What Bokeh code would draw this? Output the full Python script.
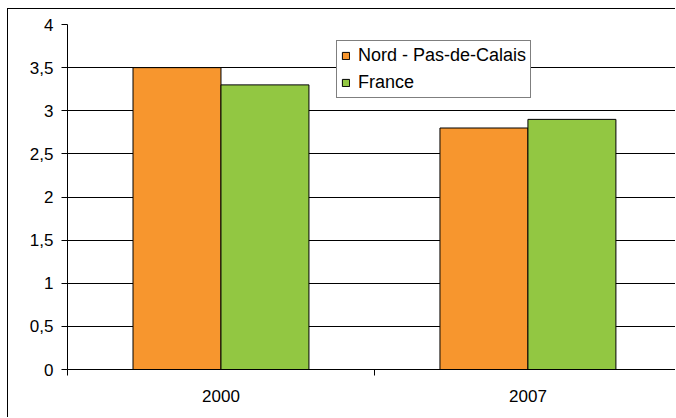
from bokeh.plotting import figure
from bokeh.models import FixedTicker, Legend, LegendItem, Range1d, ColumnDataSource
from bokeh.embed import file_html
from bokeh.resources import INLINE

categories = ["2000", "2007"]
series_names = ["Nord - Pas-de-Calais", "France"]
nord = [3.5, 2.8]
france = [3.3, 2.9]
y_ticks = [0, 0.5, 1, 1.5, 2, 2.5, 3, 3.5, 4]
y_tick_labels = ["0", "0,5", "1", "1,5", "2", "2,5", "3", "3,5", "4"]
colors = ["#F7962E", "#92C742"]

FONT = "Liberation Sans"
FS = "17px"

bar_w = 0.2866
idx = list(range(len(categories)))
centers = [i + 0.5 for i in idx]

p = figure(width=668, height=409, output_backend="svg", toolbar_location=None,
           x_range=Range1d(0, 1.984), y_range=Range1d(0, 4),
           min_border_left=59, min_border_right=0, min_border_top=15, min_border_bottom=49)
p.margin = (8, 0, 0, 7)
p.styles = {"border-left": "1px solid #000000", "border-top": "1px solid #000000"}
p.outline_line_color = None
p.background_fill_color = "white"
p.border_fill_color = "white"

src_n = ColumnDataSource(dict(x=[c - bar_w / 2 for c in centers], top=nord))
src_f = ColumnDataSource(dict(x=[c + bar_w / 2 for c in centers], top=france))
r1 = p.vbar(x="x", top="top", width=bar_w, source=src_n, fill_color=colors[0],
            line_color="#000000", line_width=1)
r2 = p.vbar(x="x", top="top", width=bar_w, source=src_f, fill_color=colors[1],
            line_color="#000000", line_width=1)

# y axis
p.yaxis.ticker = FixedTicker(ticks=y_ticks, minor_ticks=[])
p.yaxis.major_label_overrides = {t: l for t, l in zip(y_ticks, y_tick_labels)}
p.yaxis.major_tick_out = 6
p.yaxis.major_tick_in = 0
p.yaxis.major_label_standoff = 8
p.yaxis.axis_line_color = "#000000"
p.yaxis.major_tick_line_color = "#000000"

# x axis
p.xaxis.ticker = FixedTicker(ticks=centers, minor_ticks=[0, 1, 2])
p.xaxis.major_label_overrides = {c: l for c, l in zip(centers, categories)}
p.xaxis.major_tick_out = 0
p.xaxis.major_tick_in = 0
p.xaxis.minor_tick_out = 6
p.xaxis.minor_tick_in = 0
p.xaxis.minor_tick_line_color = "#000000"
p.xaxis.major_label_standoff = 14
p.xaxis.axis_line_color = "#000000"

for ax in (p.xaxis, p.yaxis):
    ax.major_label_text_font = FONT
    ax.major_label_text_font_size = FS
    ax.major_label_text_color = "#000000"

p.xgrid.grid_line_color = None
p.ygrid.ticker = FixedTicker(ticks=y_ticks)
p.ygrid.grid_line_color = "#000000"
p.ygrid.grid_line_width = 1

legend = Legend(items=[LegendItem(label=series_names[0], renderers=[r1]),
                       LegendItem(label=series_names[1], renderers=[r2])],
                location=(269, 271))
legend.label_text_font = FONT
legend.label_text_font_size = "18px"
legend.label_text_color = "#000000"
legend.glyph_width = 9
legend.glyph_height = 9
legend.label_standoff = 8
legend.label_height = 21
legend.padding = 4
legend.spacing = 6
legend.margin = 0
legend.border_line_color = "#000000"
legend.border_line_width = 1
legend.background_fill_color = "white"
legend.background_fill_alpha = 1
p.add_layout(legend, "center")

open("out.html", "w").write(file_html(p, INLINE))
